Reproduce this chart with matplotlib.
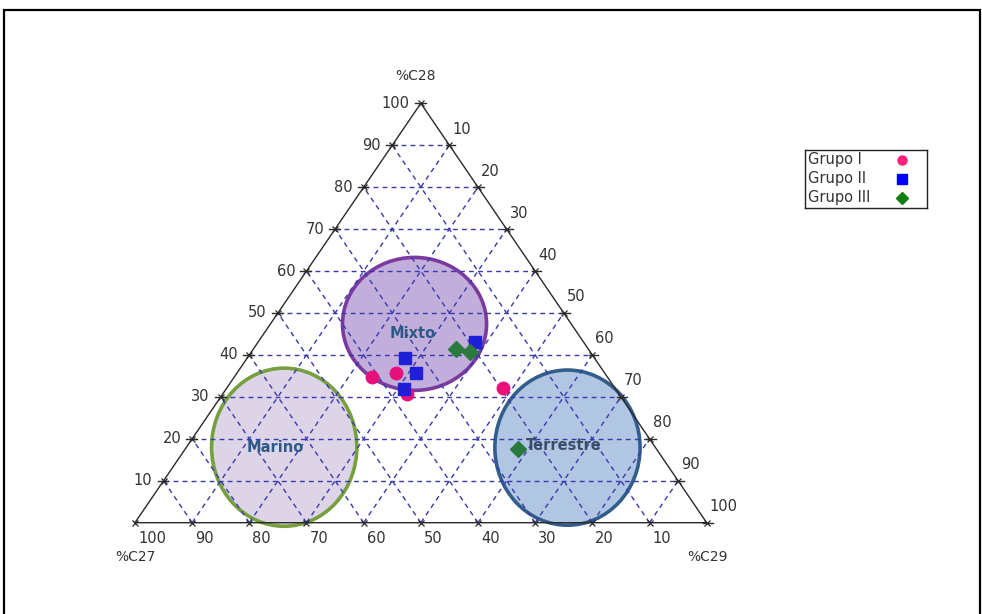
import matplotlib
matplotlib.use("Agg")
import matplotlib.pyplot as plt
from matplotlib.patches import Ellipse, Rectangle

# Sample compositions, in % of C27 / C28 / C29 steranes
grupo1_c27 = [41.2, 36.4, 37.1, 19.7]
grupo1_c28 = [34.8, 35.8, 30.7, 32.0]
grupo1_c29 = [24.0, 27.8, 32.2, 48.3]

grupo2_c27 = [33.1, 33.0, 37.0, 19.0]
grupo2_c28 = [39.2, 35.8, 31.9, 43.1]
grupo2_c29 = [27.7, 31.2, 31.1, 37.9]

grupo3_c27 = [23.2, 21.1, 24.3]
grupo3_c28 = [41.3, 40.7, 17.5]
grupo3_c29 = [35.5, 38.2, 58.2]

group_names = ["Grupo I", "Grupo II", "Grupo III"]

# Depositional environment fields: centre composition and extent (% of base / % of height)
region_names = ["Mixto", "Marino", "Terrestre"]
region_c27 = [27.4, 64.9, 15.4]
region_c28 = [47.4, 18.0, 17.9]
region_c29 = [25.2, 17.1, 66.7]
region_width = [25.2, 25.4, 25.4]
region_height = [31.7, 37.7, 37.0]

tick_values = [10, 20, 30, 40, 50, 60, 70, 80, 90, 100]
grid_values = [10, 20, 30, 40, 50, 60, 70, 80, 90]

FONT = "DejaVu Sans"
TXT = "#333333"
EDGE = "#2a2a2a"
GRID = "#3838b0"
PX = 0.72  # points per pixel at dpi 100


def tern_to_xy(c27, c28, c29):
    """Project a (C27, C28, C29) composition onto the triangle plane."""
    total = c27 + c28 + c29
    x = (c29 + 0.5 * c28) / total
    y = c28 / total
    return x, y


def group_xy(a, b, c):
    pts = [tern_to_xy(p, q, r) for p, q, r in zip(a, b, c)]
    return [p[0] for p in pts], [p[1] for p in pts]


def label(ax, text, xy, dx, dy, ha, va="center", size=10.5):
    ax.annotate(text, xy=xy, xytext=(dx * PX, dy * PX), textcoords="offset points",
                ha=ha, va=va, fontsize=size, color=TXT, family=FONT, annotation_clip=False)


def draw_legend(fig, markers):
    """Boxed key with labels on the left and symbols on the right."""
    lax = fig.add_axes([805 / 982, 1 - 208 / 614, 122 / 982, 58 / 614])
    lax.set_xlim(0, 122)
    lax.set_ylim(58, 0)
    lax.set_xticks([])
    lax.set_yticks([])
    for s in lax.spines.values():
        s.set_linewidth(1.0)
        s.set_color("#222222")
    for i, (name, (mk, ms, col)) in enumerate(zip(group_names, markers)):
        yc = 10 + 19 * i
        lax.text(3, yc, name, ha="left", va="center", fontsize=10.5, color=TXT, family=FONT)
        lax.plot(97, yc, ls="none", marker=mk, ms=ms, color=col)


def main():
    fig = plt.figure(figsize=(9.82, 6.14), dpi=100)
    ax = fig.add_axes([0, 0, 1, 1])
    ax.set_xlim(-0.2361, 1.4816)
    ax.set_ylim(-0.2177, 1.2463)
    ax.axis("off")

    # environment fields
    styles = [("#c2aedb", "#7b3a9e"), ("#ddd4e8", "#76a03e"), ("#b1c6e3", "#335e8b")]
    text_colors = ["#2c5a88", "#2c5a88", "#3a4d66"]
    text_offsets = [(-2, -10), (-9, 0), (-4, 2)]
    for i, name in enumerate(region_names):
        cx, cy = tern_to_xy(region_c27[i], region_c28[i], region_c29[i])
        face, edge = styles[i]
        ax.add_patch(Ellipse((cx, cy), region_width[i] / 100, region_height[i] / 100,
                             facecolor=face, edgecolor=edge, lw=2.6, zorder=1))
        ax.annotate(name, xy=(cx, cy), xytext=(text_offsets[i][0] * PX, text_offsets[i][1] * PX),
                    textcoords="offset points", ha="center", va="center", fontsize=10.5,
                    fontweight="bold", color=text_colors[i], family=FONT, zorder=3)

    # dashed grid in the three directions
    for v in grid_values:
        segs = [
            (tern_to_xy(100 - v, v, 0), tern_to_xy(0, v, 100 - v)),
            (tern_to_xy(v, 0, 100 - v), tern_to_xy(v, 100 - v, 0)),
            (tern_to_xy(100 - v, 0, v), tern_to_xy(0, 100 - v, v)),
        ]
        for p0, p1 in segs:
            ax.plot([p0[0], p1[0]], [p0[1], p1[1]], color=GRID, lw=1.0,
                    dashes=(3.5, 3), zorder=2)

    # triangle frame
    corners = [tern_to_xy(100, 0, 0), tern_to_xy(0, 0, 100), tern_to_xy(0, 100, 0), tern_to_xy(100, 0, 0)]
    ax.plot([c[0] for c in corners], [c[1] for c in corners], color=EDGE, lw=1.0, zorder=2.5)

    # ticks and tick labels
    tick_dx = 6 / 571.7
    for v in tick_values:
        # %C28 along the left side
        xl, yl = tern_to_xy(100 - v, v, 0)
        ax.plot([xl - tick_dx, xl + tick_dx * 0.8], [yl, yl], color=EDGE, lw=1.0, zorder=2.5)
        ax.plot(xl, yl, marker="x", ms=4, mew=0.9, color=EDGE, zorder=2.5)
        label(ax, str(v), (xl, yl), -11, 0, "right")
        # %C29 along the right side
        xr, yr = tern_to_xy(0, 100 - v, v)
        ax.plot([xr - tick_dx * 0.6, xr + tick_dx], [yr, yr], color=EDGE, lw=1.0, zorder=2.5)
        ax.plot(xr, yr, marker="x", ms=4, mew=0.9, color=EDGE, zorder=2.5)
        label(ax, str(v), (xr, yr), 3, 16, "left")
        # %C27 along the base
        xb, yb = tern_to_xy(v, 0, 100 - v)
        ax.plot(xb, yb, marker="x", ms=4, mew=0.9, color=EDGE, zorder=2.5)
        label(ax, str(v), (xb, yb), 3, -16, "left")

    label(ax, "%C28", tern_to_xy(0, 100, 0), -5, 27, "center", size=10)
    label(ax, "%C27", tern_to_xy(100, 0, 0), 0, -34, "center", size=10)
    label(ax, "%C29", tern_to_xy(0, 0, 100), 1, -34, "center", size=10)

    # samples
    x1, y1 = group_xy(grupo1_c27, grupo1_c28, grupo1_c29)
    x2, y2 = group_xy(grupo2_c27, grupo2_c28, grupo2_c29)
    x3, y3 = group_xy(grupo3_c27, grupo3_c28, grupo3_c29)
    ax.plot(x1, y1, ls="none", marker="o", ms=9, color="#e8107a", zorder=4)
    ax.plot(x2, y2, ls="none", marker="s", ms=8.8, color="#1f1fd8", zorder=5)
    ax.plot(x3, y3, ls="none", marker="D", ms=7.8, color="#2a7a3e", zorder=6)

    draw_legend(fig, [("o", 6.5, "#ff1f7c"), ("s", 6.5, "#0000ff"), ("D", 6.5, "#118011")])

    # outer frame of the figure
    fig.patches.append(Rectangle((4 / 982, -0.02), 976 / 982, 1.02 - 10 / 614,
                                 transform=fig.transFigure, fill=False,
                                 edgecolor="black", lw=1.6))

    fig.savefig("out.png", dpi=100, facecolor="white")


if __name__ == "__main__":
    main()
